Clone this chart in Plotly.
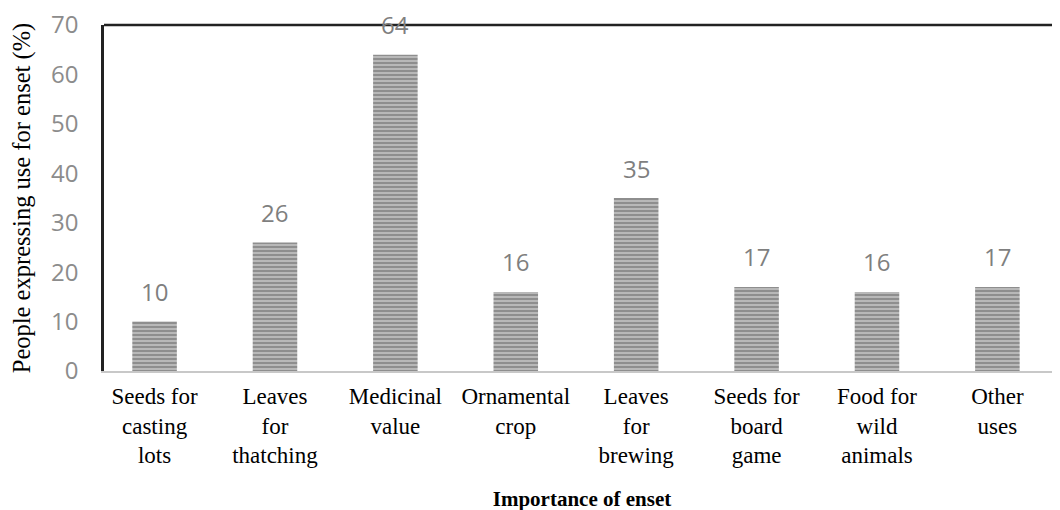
import plotly.graph_objects as go

categories = ["Seeds for<br>casting<br>lots", "Leaves<br>for<br>thatching", "Medicinal<br>value",
              "Ornamental<br>crop", "Leaves<br>for<br>brewing", "Seeds for<br>board<br>game",
              "Food for<br>wild<br>animals", "Other<br>uses"]
values = [10, 26, 64, 16, 35, 17, 16, 17]
y_ticks = [0, 10, 20, 30, 40, 50, 60, 70]

fig = go.Figure()
fig.add_trace(go.Bar(
    x=list(range(len(categories))), y=values, width=0.37,
    marker=dict(color="#b8b8b8", line=dict(width=0),
                pattern=dict(shape="-", fgcolor="#5a5a5a", size=4, solidity=0.45, fillmode="overlay")),
    showlegend=False, hoverinfo="skip",
))

for i, v in enumerate(values):
    fig.add_annotation(x=i, y=v, text=str(v), showarrow=False, yanchor="middle", yshift=30,
                       font=dict(family="Open Sans", size=24, color="#7f7f7f"))

fig.add_shape(type="line", xref="paper", yref="paper", x0=0, x1=1, y0=1, y1=1,
              line=dict(color="#222222", width=2.5), layer="above")

fig.update_layout(
    width=1060, height=510,
    margin=dict(l=96, r=8, t=17, b=147),
    paper_bgcolor="white", plot_bgcolor="white",
    xaxis=dict(tickmode="array", tickvals=list(range(len(categories))), ticktext=categories,
               range=[-0.42, 7.52], showline=True, linecolor="#c8c8c8", linewidth=2,
               showgrid=False, zeroline=False, ticks="", automargin=False, ticklabelstandoff=3,
               tickfont=dict(family="Liberation Serif", size=23, color="black"),
               title=dict(text="<b>Importance of enset</b>", standoff=24,
                          font=dict(family="Liberation Serif", size=21, color="black"))),
    yaxis=dict(range=[0, 70], tickvals=y_ticks, showline=True, linecolor="#222222", linewidth=2.5,
               showgrid=False, zeroline=False, ticks="", ticklabelstandoff=18, automargin=False,
               ticklabeloverflow="allow",
               tickfont=dict(family="Open Sans", size=24, color="#8c8c8c"),
               title=dict(text="People expressing use for enset (%)", standoff=18,
                          font=dict(family="Liberation Serif", size=24.5, color="black"))),
)

fig.write_html("out.html")
